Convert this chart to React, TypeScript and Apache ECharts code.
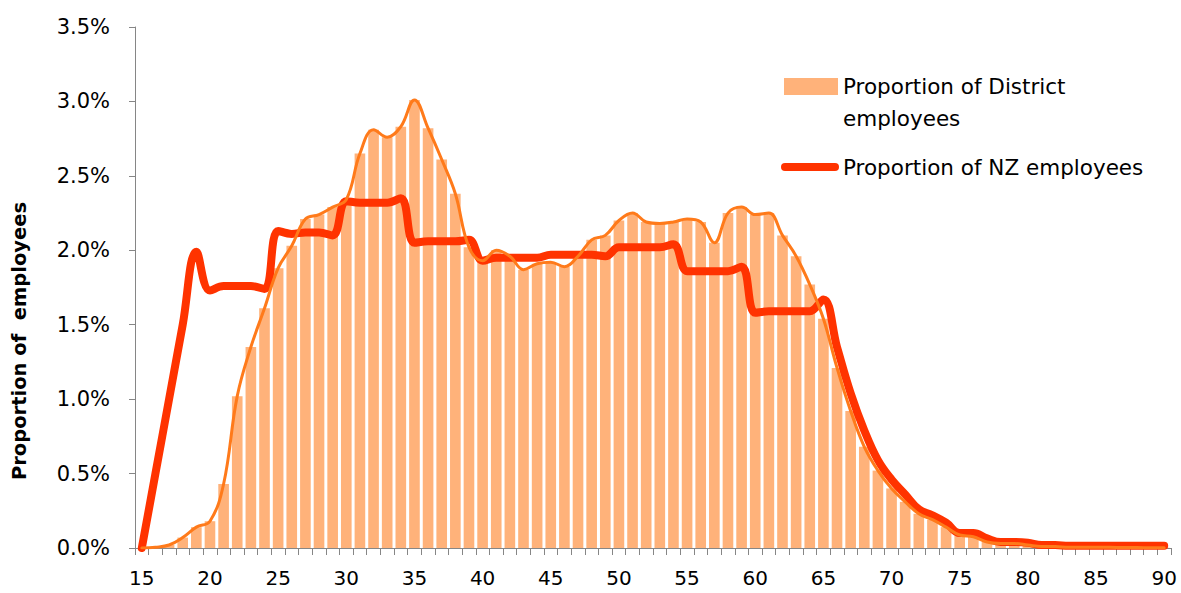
import React, { useEffect, useRef } from "react";
import * as echarts from "echarts";

const ages: string[] = [];
for (let a = 15; a <= 90; a++) ages.push(String(a));

// Proportion of District employees (%), ages 15..90
const districtValues = [
  0, 0.005, 0.02, 0.07, 0.14, 0.18, 0.43, 1.02, 1.35, 1.61,
  1.88, 2.03, 2.21, 2.24, 2.29, 2.34, 2.65, 2.81, 2.76, 2.83,
  3.01, 2.82, 2.61, 2.38, 2.02, 1.93, 2.0, 1.96, 1.87, 1.91,
  1.92, 1.89, 1.96, 2.07, 2.1, 2.2, 2.25, 2.19, 2.18, 2.19,
  2.21, 2.19, 2.05, 2.25, 2.29, 2.24, 2.25, 2.1, 1.96, 1.77,
  1.54, 1.21, 0.92, 0.68, 0.52, 0.4, 0.31, 0.23, 0.19, 0.14,
  0.087, 0.076, 0.04, 0.03, 0.03, 0.02, 0.01, 0.01, 0.005, 0.005,
  0.005, 0.005, 0.003, 0.003, 0.002, 0.002,
];

// Proportion of NZ employees (%), ages 15..90
const nzValues = [
  0, 0.5, 1.0, 1.5, 1.99, 1.73, 1.76, 1.76, 1.76, 1.74,
  2.13, 2.11, 2.12, 2.12, 2.1, 2.33, 2.32, 2.32, 2.32, 2.35,
  2.05, 2.06, 2.06, 2.06, 2.07, 1.93, 1.95, 1.95, 1.95, 1.95,
  1.97, 1.97, 1.97, 1.97, 1.96, 2.02, 2.02, 2.02, 2.02, 2.04,
  1.86, 1.86, 1.86, 1.86, 1.89, 1.58, 1.59, 1.59, 1.59, 1.59,
  1.67, 1.35, 1.04, 0.79, 0.59, 0.46, 0.36, 0.26, 0.22, 0.17,
  0.1, 0.1, 0.065, 0.04, 0.04, 0.035, 0.02, 0.02, 0.015, 0.015,
  0.015, 0.015, 0.015, 0.015, 0.015, 0.015,
];

const districtName = "Proportion of District employees";
const nzName = "Proportion of NZ employees";
const yTitle = "Proportion of  employees";

const FONT = '"DejaVu Sans", sans-serif';
const BAR_COLOR = "#FFB27A";
const DIST_LINE = "#FF7A1A";
const NZ_LINE = "#FF3300";
const AXIS_GRAY = "#868686";

export default function App() {
  const ref = useRef<HTMLDivElement>(null);
  useEffect(() => {
    document.body.style.margin = "0";
    document.body.style.overflow = "hidden";
    if (!ref.current) return;
    const chart = echarts.init(ref.current, undefined, { renderer: "svg" });
    chart.setOption({
      animation: false,
      backgroundColor: "#ffffff",
      grid: { left: 135, right: 10, top: 27, bottom: 45, containLabel: false },
      xAxis: {
        type: "category",
        data: ages,
        boundaryGap: true,
        axisLine: { lineStyle: { color: AXIS_GRAY, width: 1 } },
        axisTick: { show: true, interval: 0, length: 7, lineStyle: { color: AXIS_GRAY } },
        axisLabel: {
          interval: 4,
          margin: 20,
          color: "#000",
          fontSize: 20,
          fontFamily: FONT,
        },
        splitLine: { show: false },
      },
      yAxis: {
        type: "value",
        min: 0,
        max: 3.5,
        interval: 0.5,
        axisLine: { show: true, lineStyle: { color: AXIS_GRAY, width: 1 } },
        axisTick: { show: true, length: 6, lineStyle: { color: AXIS_GRAY } },
        axisLabel: {
          margin: 25,
          color: "#000",
          fontSize: 21,
          fontFamily: FONT,
          formatter: (v: number) => v.toFixed(1) + "%",
        },
        splitLine: { show: false },
      },
      series: [
        {
          name: districtName,
          type: "bar",
          data: districtValues,
          barCategoryGap: "22%",
          itemStyle: { color: BAR_COLOR },
          z: 1,
        },
        {
          name: nzName,
          type: "line",
          data: nzValues,
          smooth: 0.4,
          symbol: "none",
          lineStyle: { color: NZ_LINE, width: 8, cap: "round", join: "round" },
          z: 3,
        },
        {
          name: districtName + " line",
          type: "line",
          data: districtValues,
          smooth: 0.4,
          symbol: "none",
          lineStyle: { color: DIST_LINE, width: 3, cap: "round", join: "round" },
          z: 4,
        },
      ],
      graphic: [
        {
          type: "text",
          x: 19,
          y: 341,
          rotation: Math.PI / 2,
          style: {
            text: yTitle,
            font: `bold 19.5px ${FONT}`,
            fill: "#000",
            align: "center",
            verticalAlign: "middle",
          },
        },
        {
          type: "rect",
          shape: { x: 784, y: 78, width: 54, height: 17 },
          style: { fill: BAR_COLOR },
        },
        {
          type: "text",
          x: 843,
          y: 86,
          style: {
            text: "Proportion of District",
            font: `21.5px ${FONT}`,
            fill: "#000",
            align: "left",
            verticalAlign: "middle",
          },
        },
        {
          type: "text",
          x: 843,
          y: 118,
          style: {
            text: "employees",
            font: `21.5px ${FONT}`,
            fill: "#000",
            align: "left",
            verticalAlign: "middle",
          },
        },
        {
          type: "line",
          shape: { x1: 785, y1: 167, x2: 835, y2: 167 },
          style: { stroke: NZ_LINE, lineWidth: 8, lineCap: "round" },
        },
        {
          type: "text",
          x: 843,
          y: 167,
          style: {
            text: nzName,
            font: `21.5px ${FONT}`,
            fill: "#000",
            align: "left",
            verticalAlign: "middle",
          },
        },
      ],
    });
    return () => chart.dispose();
  }, []);
  return <div ref={ref} style={{ width: 1181, height: 593 }} />;
}
